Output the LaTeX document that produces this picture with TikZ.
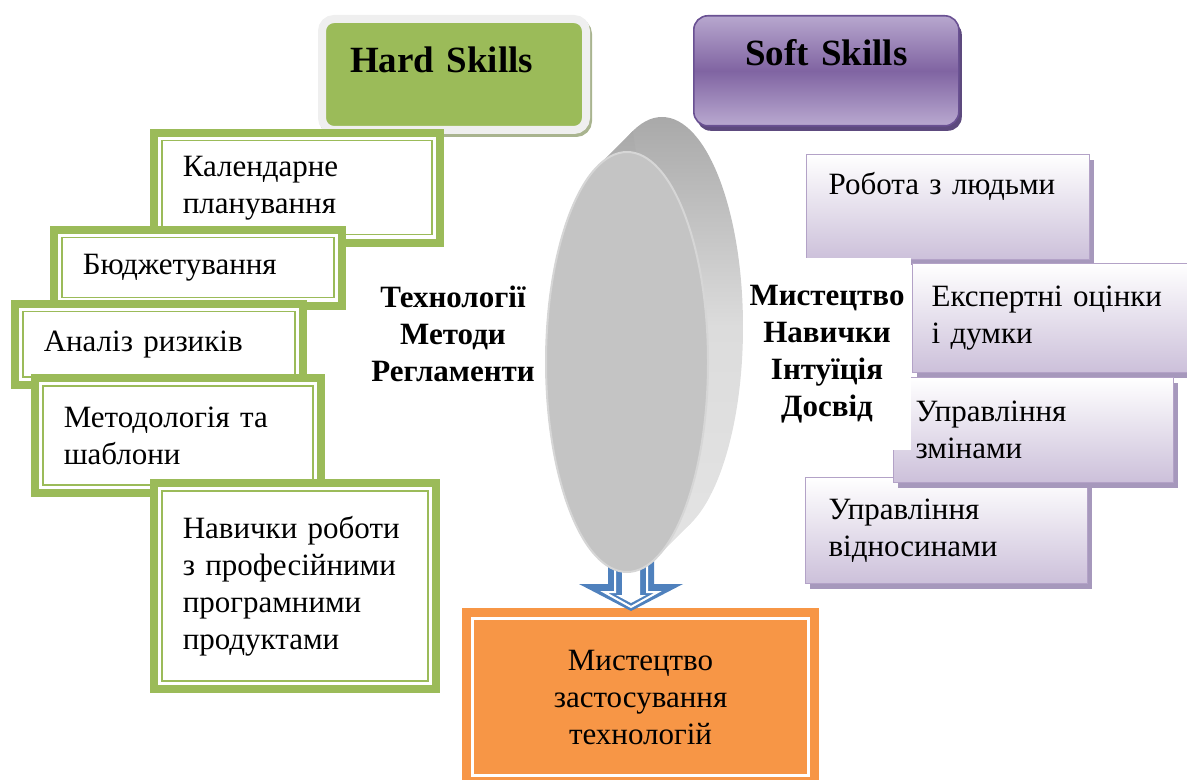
\documentclass[tikz,border=0pt]{standalone}
\usepackage{fontspec}
\setmainfont{Liberation Serif}
\usetikzlibrary{shadows}
\definecolor{hardgreen}{HTML}{9BBB59}
\definecolor{hardring}{HTML}{EFEFEF}
\definecolor{hardshade}{HTML}{A9B48F}
\definecolor{softtop}{HTML}{B7A7CE}
\definecolor{softmid}{HTML}{8064A2}
\definecolor{softbot}{HTML}{B9A9D0}
\definecolor{softedge}{HTML}{6A5193}
\definecolor{softdark}{HTML}{5D4A7E}
\definecolor{softfill}{HTML}{CCC0DA}
\definecolor{softline}{HTML}{B3A2C7}
\definecolor{softshade}{HTML}{A698BC}
\definecolor{resorange}{HTML}{F79646}
\definecolor{arrowblue}{HTML}{4F81BD}
\definecolor{rimtop}{HTML}{A9A9A9}
\definecolor{rimgray}{HTML}{DCDCDC}
\definecolor{rimlow}{HTML}{E3E3E3}
\definecolor{facegray}{HTML}{C4C4C4}
\definecolor{faceedge}{HTML}{D6D6D6}
\newcommand\txtfont{\fontsize{15.5}{18.5}\selectfont}
\newcommand\headfont{\fontsize{18.5}{22}\selectfont\bfseries}
\tikzset{
  hardhead/.style={rectangle, rounded corners=6pt, anchor=north west, fill=hardgreen,
    draw=hardring, line width=4pt, inner ysep=0pt, align=left, font=\headfont,
    drop shadow={shadow xshift=1pt, shadow yshift=-1.5pt, fill=hardshade, draw=hardshade, line width=4pt, opacity=1}},
  softhead/.style={rectangle, rounded corners=7pt, anchor=north west, top color=softtop,
    bottom color=softbot, middle color=softmid, draw=softedge, line width=0.8pt,
    inner xsep=0pt, inner ysep=0pt, align=center, font=\headfont,
    drop shadow={shadow xshift=1.5pt, shadow yshift=-2.5pt, fill=softdark, opacity=1}},
  hardbox/.style={rectangle, anchor=north west, fill=white, draw=hardgreen, line width=0.75pt,
    preaction={draw=hardgreen, line width=11.8pt},
    preaction={draw=white, line width=3.8pt},
    inner xsep=10.5pt, inner ysep=0pt, align=left, font=\txtfont},
  softbox/.style={rectangle, anchor=north west, top color=white, bottom color=softfill,
    draw=softline, line width=0.6pt, inner ysep=0pt, align=left, font=\txtfont,
    drop shadow={shadow xshift=2pt, shadow yshift=-2.5pt, fill=softshade, opacity=1}},
  rim/.style={top color=rimtop, bottom color=rimlow, middle color=rimgray},
  midtext/.style={align=center, font=\txtfont\bfseries},
  resbox/.style={rectangle, fill=resorange, draw=white, line width=1.75pt,
    preaction={draw=resorange, line width=10.7pt},
    minimum width=167.8pt, minimum height=78.3pt, align=center, font=\txtfont}
}
\begin{document}
\begin{tikzpicture}[x=0.5pt, y=-0.5pt]
\useasboundingbox (0,0) rectangle (1187,780);
% headings
\node[hardhead, text width=104pt, text height=27pt, text depth=28.5pt, inner xsep=14pt] (hard) at (318,15) {Hard Skills};
\node[softhead, text width=132.5pt, text height=25pt, text depth=30pt] (soft) at (693,15) {Soft Skills};
% hard skills
\node[hardbox, text width=114pt, minimum height=47pt] (plan) at (161,140) {Календарне\\планування};
\node[hardbox, text width=115pt, minimum height=30pt] (budget) at (61,237) {Бюджетування};
\node[hardbox, text width=115pt, minimum height=32.7pt] (risk) at (22,311) {Аналіз ризиків};
\node[hardbox, text width=114pt, minimum height=49.7pt] (method) at (42,385) {Методологія та\\шаблони};
\node[hardbox, text width=112pt, minimum height=95.2pt] (tools) at (161,490) {Навички роботи\\з професійними\\програмними\\продуктами};
% result and arrow
\node[resbox] (result) at (640.5,697) {Мистецтво\\застосування\\технологій};
\coordinate (tip) at (631,611);
\fill[arrowblue] (tip) -- ++(52,-27) -- ++(-29,0) -- ++(0,-44) -- ++(-46,0) -- ++(0,44) -- ++(-29,0) -- cycle;
\filldraw[fill=arrowblue, draw=white, line width=1pt] (631,607) -- ++(27,-15) -- ++(-11,0) -- ++(0,-52)
    -- ++(-32,0) -- ++(0,52) -- ++(-11,0) -- cycle;
\fill[white] (631,603) -- ++(15,-8) -- ++(-6,0) -- ++(0,-55) -- ++(-18,0) -- ++(0,55) -- ++(-6,0) -- cycle;
% disc
\path[rim] (662,327) ellipse [x radius=81, y radius=210];
\path[rim] (597.8,166.1) -- (632.8,131.1) -- (691.2,522.9) -- (656.2,557.9) -- cycle;
\filldraw[fill=facegray, draw=faceedge, line width=1pt] (627,362) ellipse [x radius=81, y radius=210];
% soft skills
\node[softbox, inner xsep=11pt, text width=119.5pt, text height=20pt, text depth=32.5pt] (people) at (806,154) {Робота з людьми};
\node[softbox, inner xsep=9.5pt, text width=121pt, minimum height=54.5pt] (expert) at (912,263) {Експертні оцінки\\і думки};
\node[softbox, inner xsep=11.5pt, text width=118pt, minimum height=53pt] (relate) at (805,477) {Управління\\відносинами};
\node[softbox, inner xsep=11pt, text width=118pt, minimum height=52.5pt] (change) at (893,377) {Управління\\змінами};
% middle texts
\node[midtext] (tech) at (453,334) {Технології\\Методи\\Регламенти};
\node[midtext, fill=white, text width=84pt, minimum height=96pt, inner xsep=0pt] (art) at (827,354) {Мистецтво\\Навички\\Інтуїція\\Досвід};
\end{tikzpicture}
\end{document}
